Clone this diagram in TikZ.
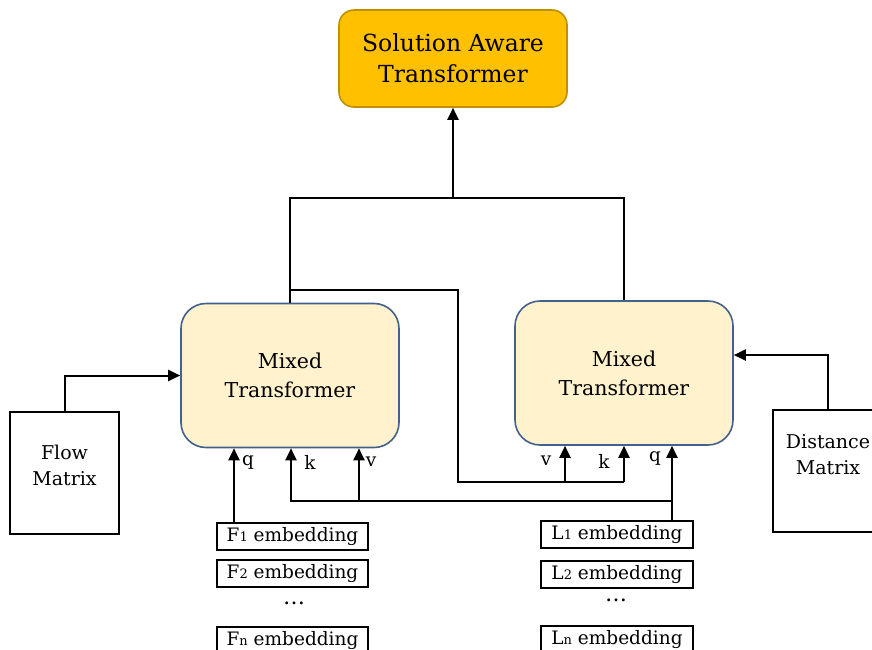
\documentclass[tikz,border=0pt]{standalone}
\usepackage{fontspec}
\setmainfont{DejaVu Serif}
\usetikzlibrary{arrows.meta,calc}
\definecolor{satfill}{HTML}{FFC000}
\definecolor{satdraw}{HTML}{BF9000}
\definecolor{mtfill}{HTML}{FFF2CC}
\definecolor{mtdraw}{HTML}{44608C}
\begin{document}
\begin{tikzpicture}[x=1pt,y=-1pt,
  conn/.style={line width=2pt,black},
  arr/.style={conn,-{Triangle[length=12pt,width=11pt]}},
  satbox/.style={draw=satdraw,fill=satfill,line width=1.6pt,rounded corners=15pt,
    minimum width=228pt,minimum height=97pt,align=center,inner sep=0pt,
    font=\fontsize{23.5}{31}\selectfont},
  mtbox/.style={draw=mtdraw,fill=mtfill,line width=1.6pt,rounded corners=25pt,
    minimum width=218pt,minimum height=144pt,align=center,inner sep=0pt,
    font=\fontsize{20.5}{29}\selectfont},
  matbox/.style={draw,line width=2pt,minimum height=122pt,inner sep=0pt},
  matlabel/.style={align=center,font=\fontsize{19}{26}\selectfont},
  embbox/.style={draw,line width=2pt,minimum height=27pt,inner sep=0pt,
    font=\fontsize{18.5}{22}\selectfont},
  qkv/.style={font=\fontsize{18.5}{20}\selectfont,inner sep=0pt},
  dotstyle/.style={font=\fontsize{22}{24}\selectfont,inner sep=0pt}
]
\clip (0,0) rectangle (872,649);
\fill[white] (0,0) rectangle (872,649);

% main boxes
\node[satbox] (sat) at (453,58.5) {Solution Aware\\Transformer};
\node[mtbox] (lmt) at (290,375.5) {Mixed\\Transformer};
\node[mtbox] (rmt) at (624,373) {Mixed\\Transformer};

% matrices
\node[matbox,minimum width=109pt,
  label={[matlabel,yshift=8pt]center:Flow\\Matrix}] (flow) at (64.5,473) {};
\node[matbox,minimum width=110pt,
  label={[matlabel,yshift=16pt]center:Distance\\Matrix}] (dist) at (828,471) {};

% embeddings
\node[embbox,minimum width=151pt] (f1) at (292.5,536.5) {F{\fontsize{13}{14}\selectfont 1} embedding};
\node[embbox,minimum width=151pt] (f2) at (292.5,573.5) {F{\fontsize{13}{14}\selectfont 2} embedding};
\node[dotstyle] (fd) at (294,603) {\ldots};
\node[embbox,minimum width=151pt] (fn) at (292.5,640.5) {F{\fontsize{13}{14}\selectfont n} embedding};
\node[embbox,minimum width=152pt] (l1) at (617,534.5) {L{\fontsize{13}{14}\selectfont 1} embedding};
\node[embbox,minimum width=152pt] (l2) at (617,574.5) {L{\fontsize{13}{14}\selectfont 2} embedding};
\node[dotstyle] (ld) at (616,600) {\ldots};
\node[embbox,minimum width=152pt] (ln) at (617,639.5) {L{\fontsize{13}{14}\selectfont n} embedding};

% top connectors
\coordinate (top) at (453,198);
\draw[conn] (lmt.north) |- (top) -| (rmt.north);
\draw[arr] (top) -- (sat.south);

% left MT output to right MT k,v
\coordinate (tap) at (290,290);
\coordinate (c1) at (458,290);
\coordinate (c2) at (458,482);
\coordinate (rk) at (624,482);
\coordinate (rv) at (565,482);
\draw[conn] (tap) -- (c1) -- (c2) -- (rk);
\draw[arr] (rk) -- (rk |- rmt.south);
\draw[arr] (rv) -- (rv |- rmt.south);

% F1 -> left MT q
\coordinate (fq) at (234,523);
\draw[arr] (fq) -- (fq |- lmt.south);

% L1 -> right MT q, and left MT k,v
\coordinate (lq) at (672,521);
\draw[arr] (lq) -- (lq |- rmt.south);
\coordinate (lj) at (672,501);
\coordinate (lk) at (291,501);
\coordinate (lv) at (359,501);
\draw[arr] (lj) -- (lk) -- (lk |- lmt.south);
\draw[arr] (lv) -- (lv |- lmt.south);

% matrices -> MTs
\draw[arr] (flow.north) |- (lmt.west);
\draw[arr] (dist.north) |- ([yshift=18pt]rmt.east);

% q k v labels
\node[qkv] (lql) at (248,462) {q};
\node[qkv] (lkl) at (310,462) {k};
\node[qkv] (lvl) at (371,462) {v};
\node[qkv] (rvl) at (546,461) {v};
\node[qkv] (rkl) at (604,461) {k};
\node[qkv] (rql) at (655,458) {q};
\end{tikzpicture}
\end{document}
